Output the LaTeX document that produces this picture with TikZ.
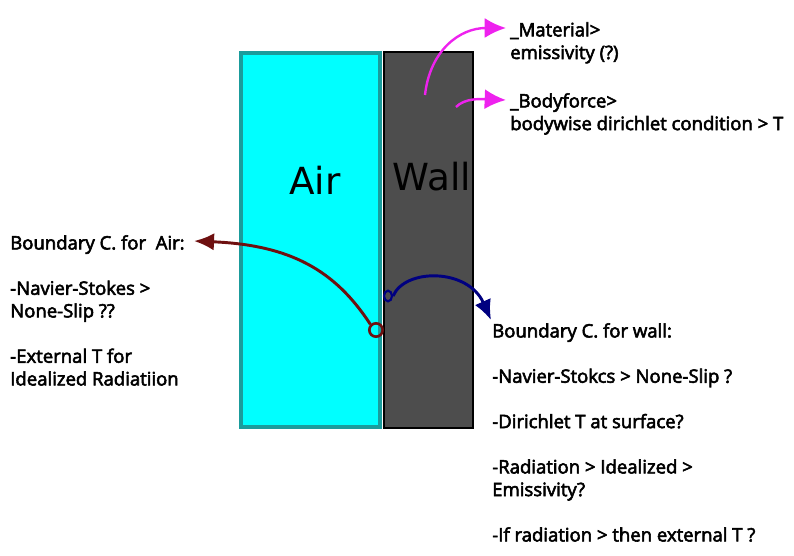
\documentclass[tikz,border=0pt]{standalone}
\usepackage{fontspec}
\usepackage{tikz}
\usetikzlibrary{arrows.meta,shapes.geometric}
\newfontfamily\lblfont{Open Sans}[FakeBold=3]
\newfontfamily\bigfont{DejaVu Sans}
\definecolor{airfill}{HTML}{00FFFF}
\definecolor{airedge}{HTML}{1A9C9C}
\definecolor{wallfill}{HTML}{4D4D4D}
\definecolor{airarrow}{HTML}{6E1010}
\definecolor{wallarrow}{HTML}{000080}
\definecolor{matarrow}{HTML}{EE22EE}
\tikzset{
  lbl/.style={font=\lblfont\fontsize{13.9}{17}\selectfont, align=left, inner sep=0pt, anchor=north west},
  bodylbl/.style={font=\bigfont\fontsize{28}{32}\selectfont, inner sep=0pt},
  bcarrow/.style={line width=2.2pt, -{Latex[length=15pt,width=13pt]}},
  matconn/.style={line width=1.8pt, color=matarrow, -{Latex[length=16pt,width=15pt]}}
}

\begin{document}
\begin{tikzpicture}[x=0.75pt,y=-0.75pt]

% Page frame
\useasboundingbox (0,0) rectangle (794,556);

% Bodies
\draw[airedge, line width=2.4pt, fill=airfill] (241,53) rectangle (380,427);
\draw[black, line width=1pt, fill=wallfill] (384,52) rectangle (473,428);
\node[bodylbl] (air) at (315,180) {Air};
\node[bodylbl] (wall) at (432,177) {Wall};

% Boundary points
\node[circle, draw=airarrow, line width=2pt, minimum size=10pt, inner sep=0pt] (airpt) at (376,330) {};
\node[ellipse, draw=wallarrow, line width=1.6pt, minimum width=6pt, minimum height=8pt, inner sep=0pt] (wallpt) at (388,296) {};

% Labels
\node[lbl] (airbc) at (10,235) {Boundary C. for\ \ Air:\\[17pt]-Navier-Stokes >\\None-Slip ??\\[17pt]-External T for\\Idealized Radiatiion};
\node[lbl] (wallbc) at (492,323) {Boundary C. for wall:\\[17pt]-Navier-Stokcs > None-Slip ?\\[17pt]-Dirichlet T at surface?\\[17pt]-Radiation > Idealized >\\Emissivity?\\[17pt]-If radiation > then external T ?};
\node[lbl] (matlbl) at (510,22) {\_Material>\\emissivity (?)};
\node[lbl] (bodylbl) at (510,93) {\_Bodyforce>\\bodywise dirichlet condition > T};

% Arrow ends
\coordinate (airend) at (194,241);
\coordinate (wallend) at (491,320);
\coordinate (matstart) at (425,95);
\coordinate (matend) at (506,28);
\coordinate (bodystart) at (456,107);
\coordinate (bodyend) at (506,100);

% Connectors
\draw[bcarrow, airarrow] (airpt.north west) .. controls (335,270) and (290,245) .. (airend);
\draw[bcarrow, wallarrow] (wallpt.east) .. controls (405,268) and (468,268) .. (wallend);
\draw[matconn] (matstart) .. controls (430,50) and (460,28) .. (matend);
\draw[matconn] (bodystart) .. controls (465,98) and (480,99) .. (bodyend);

\end{tikzpicture}
\end{document}
